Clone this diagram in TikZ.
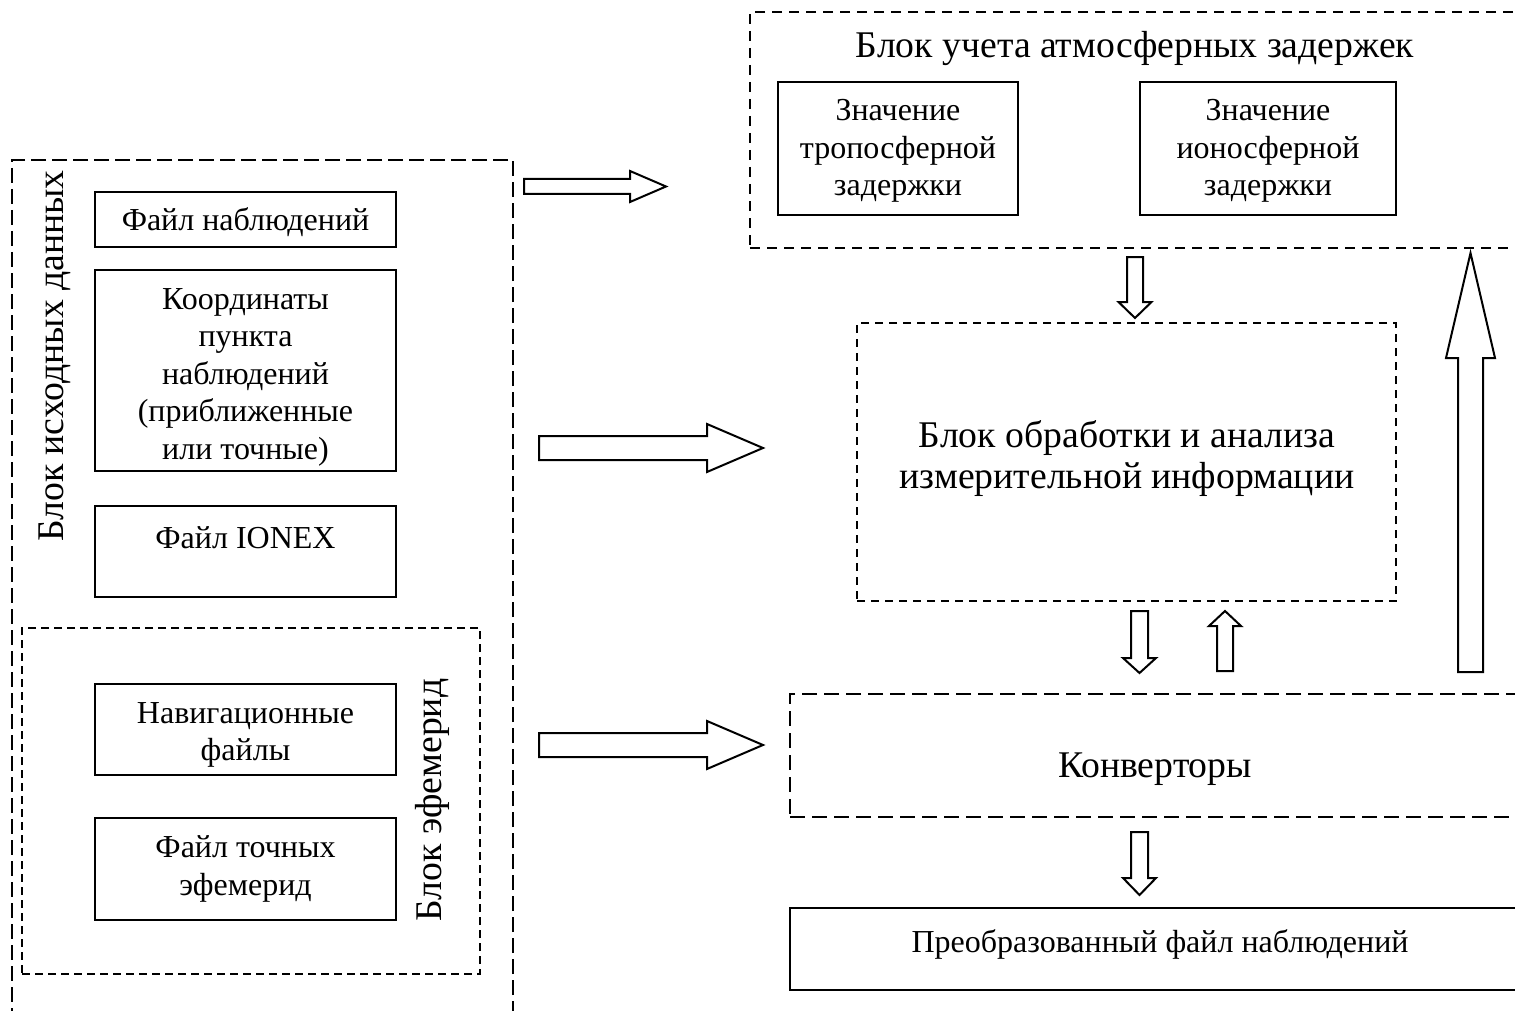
\documentclass[tikz,border=0pt]{standalone}
\usepackage{fontspec}
\setmainfont{Liberation Serif}
\usetikzlibrary{positioning}

\newcommand{\smalltxt}{\fontsize{32}{37.5}\selectfont}
\newcommand{\bigtxt}{\fontsize{37.7}{41}\selectfont}

\tikzset{
  box/.style={draw, line width=2.4pt, inner sep=0pt, align=center, font=\smalltxt},
  blk/.style={draw, line width=2pt, inner sep=0pt},
  txt/.style={inner sep=0pt, align=center, font=\smalltxt},
  bigt/.style={inner sep=0pt, align=center, font=\bigtxt},
  arr/.style={draw, line width=2pt, fill=white, line join=miter},
  pics/hollow/.style n args={4}{code={
    \draw[arr] (0,-#3) -- (#1-#2,-#3) -- (#1-#2,-#4) -- (#1,0) -- (#1-#2,#4) -- (#1-#2,#3) -- (0,#3) -- cycle;
  }},
}

\begin{document}
\begin{tikzpicture}[x=1pt,y=1pt,yscale=-1]
\clip (0,0) rectangle (1515,1011);

%Source data block
\node[blk, dash pattern=on 15pt off 6pt, minimum width=501pt, minimum height=880pt] (src) at (262.5,600) {};
\node[bigt, rotate=90] (srct) at (55,356) {Блок исходных данных};
\node[box, minimum width=301pt, minimum height=55pt] (obs) at (245.5,219.5) {};
\node[txt] (obst) at (245.5,222) {Файл наблюдений};
\node[box, minimum width=301pt, minimum height=201pt] (coord) at (245.5,370.5) {};
\node[txt] (coordt) at (245.5,377) {Координаты\\пункта\\наблюдений\\(приближенные\\или точные)};
\node[box, minimum width=301pt, minimum height=91pt] (ionex) at (245.5,551.5) {};
\node[txt] (ionext) at (245.5,538) {Файл IONEX};

%Ephemeris block
\node[blk, dash pattern=on 8pt off 5pt, minimum width=458pt, minimum height=346pt] (eph) at (251,801) {};
\node[bigt, rotate=90] (epht) at (432,800) {Блок эфемерид};
\node[box, minimum width=301pt, minimum height=91pt] (nav) at (245.5,729.5) {};
\node[txt] (navt) at (245.5,735) {Навигационные\\файлы};
\node[box, minimum width=301pt, minimum height=102pt] (prec) at (245.5,869) {};
\node[txt] (prect) at (245.5,869) {Файл точных\\эфемерид};

%Atmosphere block
\node[blk, dash pattern=on 10pt off 7pt, minimum width=850pt, minimum height=236pt] (atm) at (1175,130) {};
\node[bigt] (atmt) at (1135,48) {Блок учета атмосферных задержек};
\node[box, minimum width=240pt, minimum height=133pt] (trop) at (898,148.5) {};
\node[txt] (tropt) at (898,151) {Значение\\тропосферной\\задержки};
\node[box, minimum width=256pt, minimum height=133pt] (iono) at (1268,148.5) {};
\node[txt] (ionot) at (1268,151) {Значение\\ионосферной\\задержки};

%Processing block
\node[blk, dash pattern=on 8pt off 6pt, minimum width=539pt, minimum height=278pt] (proc) at (1126.5,462) {};
\node[bigt] (proct) at (1127,459) {Блок обработки и анализа\\измерительной информации};

%Converters
\node[blk, dash pattern=on 15pt off 7pt, minimum width=810pt, minimum height=123pt] (conv) at (1195,755.5) {};
\node[bigt] (convt) at (1155,769) {Конверторы};

%Result
\node[box, minimum width=810pt, minimum height=82pt] (res) at (1195,949) {};
\node[txt] (rest) at (1160,944) {Преобразованный файл наблюдений};

%Hollow arrows
\pic at (524,186.5) {hollow={142}{36}{7.5}{15.5}};
\pic at (539,448) {hollow={224}{56}{12}{24}};
\pic at (539,745) {hollow={224}{56}{12}{24}};
\pic[rotate=-90] at (1135,257) {hollow={61}{16}{8}{16.5}};
\pic[rotate=-90] at (1139.5,611) {hollow={62}{15}{8.5}{16.5}};
\pic[rotate=90] at (1225,671) {hollow={60}{15}{8}{16}};
\pic[rotate=90] at (1470.5,672) {hollow={419}{105}{12.5}{24.5}};
\pic[rotate=-90] at (1139.5,832) {hollow={63}{17}{8.5}{16.5}};

\end{tikzpicture}
\end{document}
